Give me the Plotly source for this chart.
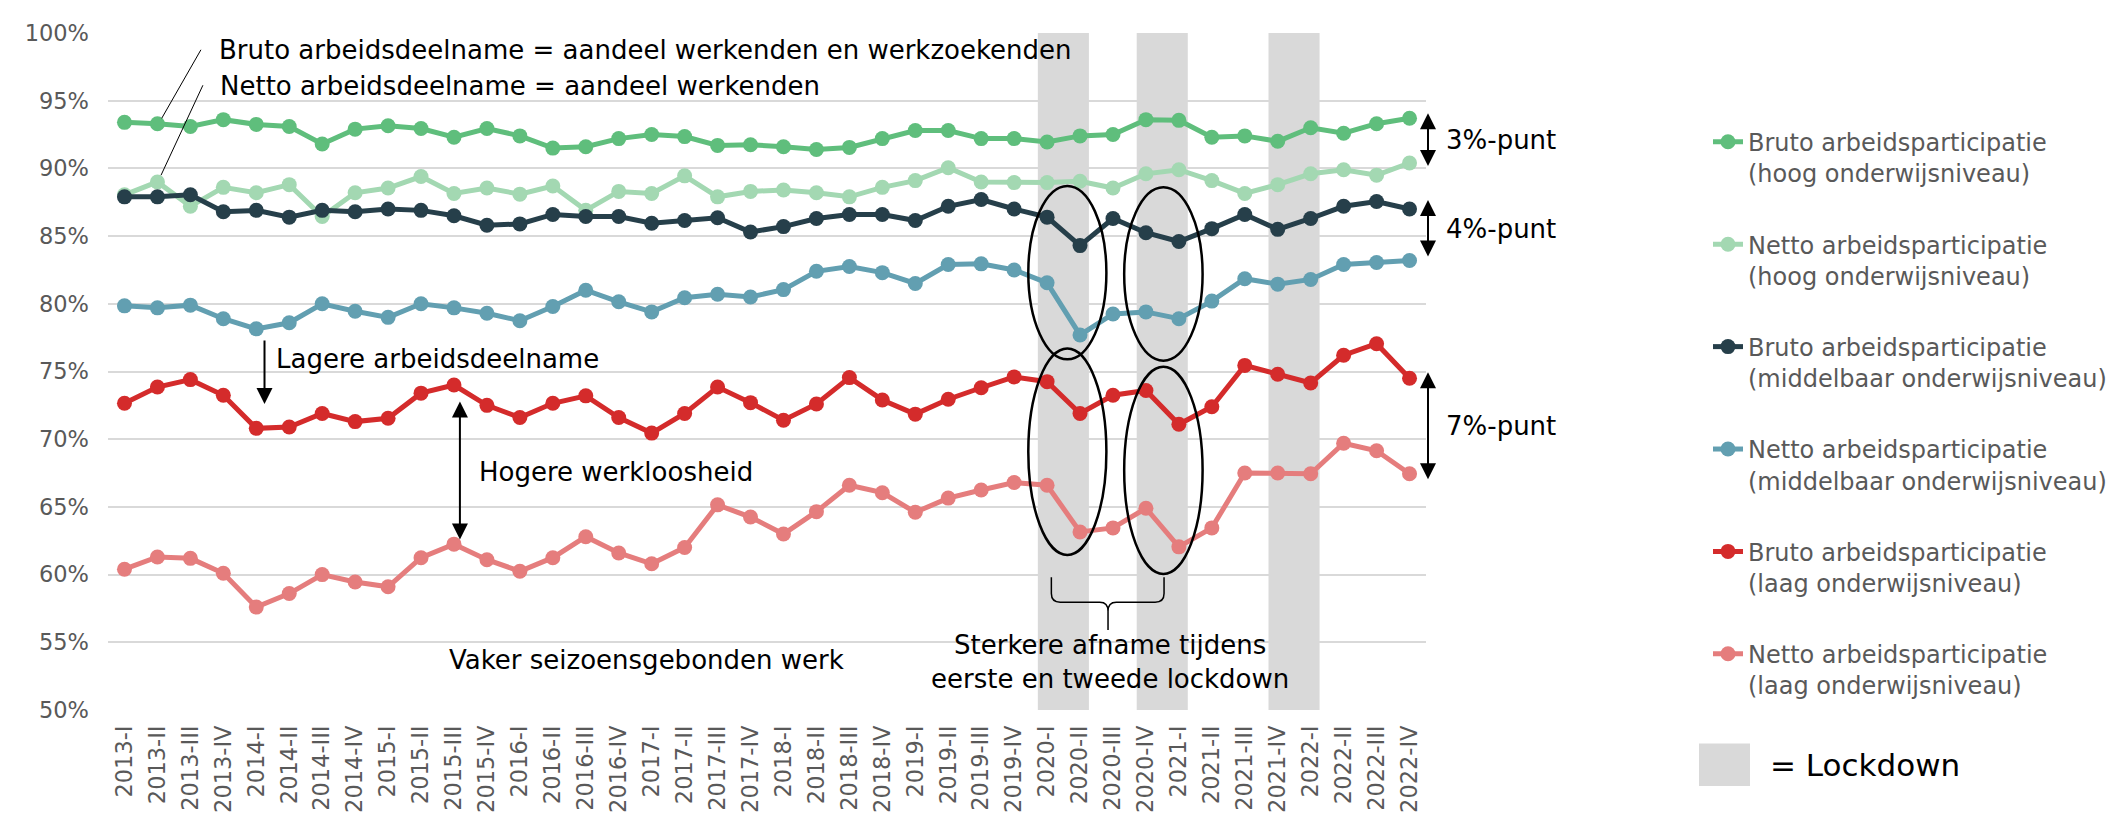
import plotly.graph_objects as go

# Quarter labels 2013-I .. 2022-IV
quarters = [f"{y}-{q}" for y in range(2013, 2023) for q in ["I", "II", "III", "IV"]]

bruto_hoog = [93.4, 93.3, 93.1, 93.6, 93.25, 93.1, 91.8, 92.9, 93.15, 92.95, 92.3, 92.95, 92.4, 91.5,
              91.6, 92.2, 92.5, 92.35, 91.7, 91.75, 91.6, 91.4, 91.55, 92.2, 92.8, 92.8, 92.2, 92.2, 91.95, 92.4,
              92.5, 93.6, 93.55, 92.3, 92.4, 92.0, 93.0, 92.6, 93.3, 93.7]
netto_hoog = [88.05, 89.0, 87.2, 88.6, 88.2, 88.8, 86.45, 88.2, 88.55, 89.4, 88.15, 88.55, 88.1, 88.7,
              86.9, 88.3, 88.15, 89.45, 87.9, 88.3, 88.4, 88.2, 87.9, 88.6, 89.1, 90.05, 89.0, 88.95, 88.95, 89.05,
              88.55, 89.6, 89.9, 89.1, 88.15, 88.8, 89.6, 89.9, 89.5, 90.4]
bruto_midd = [87.9, 87.9, 88.05, 86.8, 86.9, 86.4, 86.9, 86.8, 87.0, 86.9, 86.5, 85.8, 85.9, 86.6,
              86.45, 86.45, 85.95, 86.15, 86.35, 85.3, 85.7, 86.3, 86.6, 86.6, 86.15, 87.2, 87.7, 87.0, 86.4, 84.3,
              86.3, 85.25, 84.6, 85.55, 86.6, 85.5, 86.3, 87.2, 87.55, 87.0]
netto_midd = [79.85, 79.7, 79.9, 78.9, 78.15, 78.6, 80.0, 79.45, 79.0, 80.0, 79.7, 79.3, 78.75, 79.8,
              81.0, 80.15, 79.4, 80.45, 80.7, 80.5, 81.05, 82.4, 82.75, 82.3, 81.5, 82.9, 82.95, 82.5, 81.55, 77.7,
              79.25, 79.4, 78.9, 80.2, 81.85, 81.45, 81.8, 82.9, 83.05, 83.2]
bruto_laag = [72.65, 73.85, 74.4, 73.25, 70.8, 70.9, 71.9, 71.3, 71.55, 73.4, 74.0, 72.5, 71.6, 72.65,
              73.2, 71.6, 70.45, 71.9, 73.85, 72.7, 71.4, 72.6, 74.55, 72.9, 71.85, 72.95, 73.8, 74.6, 74.25, 71.9,
              73.25, 73.6, 71.1, 72.4, 75.45, 74.8, 74.15, 76.2, 77.05, 74.5]
netto_laag = [60.4, 61.3, 61.2, 60.1, 57.6, 58.6, 60.0, 59.45, 59.1, 61.25, 62.25, 61.1, 60.25, 61.25,
              62.8, 61.6, 60.8, 62.0, 65.15, 64.25, 63.0, 64.65, 66.6, 66.05, 64.6, 65.65, 66.25, 66.8, 66.6, 63.15,
              63.45, 64.9, 62.05, 63.45, 67.5, 67.5, 67.45, 69.7, 69.15, 67.45]

series_names = [
    "Bruto arbeidsparticipatie<br>(hoog onderwijsniveau)",
    "Netto arbeidsparticipatie<br>(hoog onderwijsniveau)",
    "Bruto arbeidsparticipatie<br>(middelbaar onderwijsniveau)",
    "Netto arbeidsparticipatie<br>(middelbaar onderwijsniveau)",
    "Bruto arbeidsparticipatie<br>(laag onderwijsniveau)",
    "Netto arbeidsparticipatie<br>(laag onderwijsniveau)",
]
series_colors = ["#5fbe7c", "#a3d8b2", "#263f4a", "#629fb1", "#d42b2b", "#e57d7d"]
series_values = [bruto_hoog, netto_hoog, bruto_midd, netto_midd, bruto_laag, netto_laag]

y_ticks = list(range(50, 101, 5))

# lockdown periods (first and last quarter)
lockdowns = [("2020-I", "2020-II"), ("2020-IV", "2021-I"), ("2021-IV", "2022-I")]

# gap labels at the right edge: (label, top, bottom)
gaps = [("3%-punt", 94.18, 90.18), ("4%-punt", 87.78, 83.49), ("7%-punt", 75.05, 67.05)]

FONT = "DejaVu Sans"
GREY_TXT = "#595959"
x = list(range(len(quarters)))

L, R, T, B = 100, 700, 20, 110
W, H = 2118 - L - R, 817 - T - B
px = lambda p: (p - L) / W
py = lambda p: (817 - B - p) / H

fig = go.Figure()
for i, (name, col, vals) in enumerate(zip(series_names, series_colors, series_values)):
    fig.add_trace(go.Scatter(
        x=x, y=vals, name=name, mode="lines+markers", legendgroup=str(i),
        line=dict(color=col, width=5), marker=dict(color=col, size=15),
    ))

# lockdown bands
for a, b in lockdowns:
    fig.add_shape(type="rect", xref="x", yref="y", layer="below",
                  x0=quarters.index(a) - 0.28, x1=quarters.index(b) + 0.27, y0=50, y1=100,
                  fillcolor="#d9d9d9", line_width=0)

# ellipses around the lockdown drops
for x0, x1, y0, y1 in [(27.43, 29.8, 75.9, 88.7), (30.34, 32.72, 75.8, 88.6),
                       (27.43, 29.8, 61.45, 76.7), (30.34, 32.72, 60.05, 75.35)]:
    fig.add_shape(type="circle", xref="x", yref="y", x0=x0, x1=x1, y0=y0, y1=y1,
                  line=dict(color="black", width=2.5))

# curly brace under ellipses
fig.add_shape(type="path", xref="x", yref="y", line=dict(color="black", width=1.5),
              path="M28.13,59.8 L28.13,58.6 Q28.13,57.96 28.4,57.96 L29.6,57.96 Q29.85,57.96 29.85,57.3 L29.85,55.9 "
                   "M29.85,57.3 Q29.85,57.96 30.1,57.96 L31.28,57.96 Q31.55,57.96 31.55,58.6 L31.55,59.8")

# leader lines for definitions
fig.add_shape(type="line", xref="x", yref="y", x0=2.32, y0=98.76, x1=1.13, y1=93.7, line=dict(color="black", width=1))
fig.add_shape(type="line", xref="x", yref="y", x0=2.38, y0=96.14, x1=1.11, y1=89.5, line=dict(color="black", width=1))

txt = dict(family=FONT, size=26, color="black")
annos = [
    dict(x=2.8, y=98.75, text="Bruto arbeidsdeelname = aandeel werkenden en werkzoekenden", xanchor="left"),
    dict(x=2.85, y=96.05, text="Netto arbeidsdeelname = aandeel werkenden", xanchor="left"),
    dict(x=4.55, y=75.9, text="Lagere arbeidsdeelname", xanchor="left"),
    dict(x=10.7, y=67.6, text="Hogere werkloosheid", xanchor="left"),
    dict(x=9.8, y=53.7, text="Vaker seizoensgebonden werk", xanchor="left"),
    dict(x=29.91, y=53.55, text="Sterkere afname tijdens<br>eerste en tweede lockdown", xanchor="center"),
]
for a in annos:
    fig.add_annotation(xref="x", yref="y", showarrow=False, yanchor="middle", font=txt, **a)

# arrows inside the plot: (x, y_from, y_to, double)
arrows = [(4.25, 77.4, 72.6, False), (10.18, 72.9, 62.6, True)]
for ax_, y0, y1, dbl in arrows:
    fig.add_annotation(xref="x", yref="y", axref="x", ayref="y", x=ax_, y=y1, ax=ax_, ay=y0,
                       text="", showarrow=True, arrowhead=2, arrowsize=1.6, arrowwidth=2,
                       arrowside="end+start" if dbl else "end", arrowcolor="black")

# gap arrows and labels right of the plot
for label, top, bot in gaps:
    fig.add_annotation(xref="paper", yref="y", axref="pixel", ayref="y", x=px(1420), y=bot, ax=0, ay=top,
                       text="", showarrow=True, arrowhead=2, arrowsize=1.6, arrowwidth=2,
                       arrowside="end+start", arrowcolor="black")
    fig.add_annotation(xref="paper", yref="y", x=px(1436), y=(top + bot) / 2 - 0.1, text=label,
                       showarrow=False, xanchor="left", yanchor="middle", font=txt)

# lockdown legend entry
fig.add_shape(type="rect", xref="paper", yref="paper", x0=px(1691), x1=px(1742), y0=py(784), y1=py(741),
              fillcolor="#d9d9d9", line_width=0)
fig.add_annotation(xref="paper", yref="paper", x=px(1760), y=py(763), text="= Lockdown", showarrow=False,
                   xanchor="left", yanchor="middle", font=dict(family=FONT, size=31, color="black"))

fig.update_layout(
    width=2118, height=817,
    margin=dict(l=L, r=R, t=T, b=B),
    plot_bgcolor="white", paper_bgcolor="white",
    font=dict(family=FONT, size=22, color=GREY_TXT),
    showlegend=True,
    legend=dict(x=px(1700), y=py(108), xanchor="left", yanchor="top", valign="top",
                font=dict(family=FONT, size=24, color=GREY_TXT), tracegroupgap=37,
                bgcolor="rgba(0,0,0,0)"),
    xaxis=dict(range=[-0.5, 39.5], tickvals=x, ticktext=quarters, tickangle=-90, showgrid=False,
               zeroline=False, showline=False, ticks="", tickfont=dict(size=22.5, color=GREY_TXT),
               ticklabelstandoff=10),
    yaxis=dict(range=[50, 100], tickvals=y_ticks, ticktext=[f"{v}%" for v in y_ticks],
               showgrid=True, gridcolor="#d9d9d9", gridwidth=2, zeroline=False, showline=False,
               ticks="", tickfont=dict(size=22.5, color=GREY_TXT), ticklabelstandoff=18),
)

fig.write_html("out.html")
